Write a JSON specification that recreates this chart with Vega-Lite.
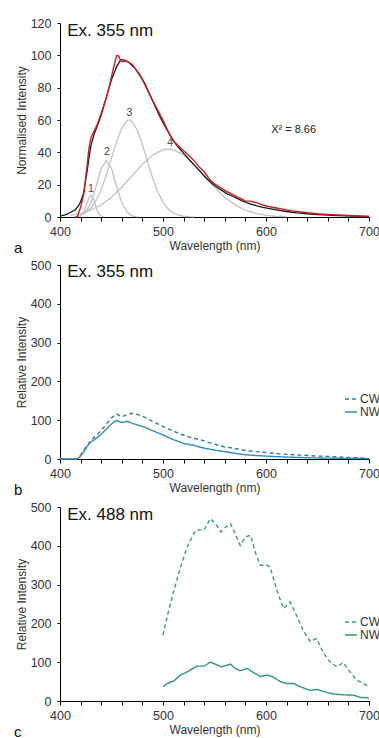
{
  "$schema": "https://vega.github.io/schema/vega-lite/v6.json",
  "padding": {"left": 14, "top": 17, "right": 0, "bottom": 2},
  "autosize": {"type": "pad"},
  "bounds": "flush",
  "spacing": 48,
  "config": {
    "font": "Liberation Sans",
    "view": {"stroke": null},
    "axis": {"grid": false, "domainColor": "#000", "tickColor": "#000", "labelColor": "#333", "titleColor": "#333", "labelFontSize": 12.5, "titleFontSize": 12, "titleFontWeight": "normal", "labelFont": "Liberation Sans", "titleFont": "Liberation Sans", "labelFlush": false},
    "axisX": {"tickSize": 4, "labelPadding": 4, "titlePadding": 3, "labelOverlap": false},
    "axisY": {"tickSize": 3, "labelPadding": 6, "titlePadding": 2},
    "legend": {"symbolType": "stroke", "symbolSize": 144, "symbolStrokeWidth": 1.5, "labelFontSize": 12, "labelColor": "#333", "labelOffset": 2, "rowPadding": -3},
    "title": {"font": "Liberation Sans"}
  },
  "datasets": {
    "a_comp": [
      {"wl": 418, "v": 0.15, "s": "c1"}, {"wl": 420, "v": 0.6, "s": "c1"}, {"wl": 422, "v": 1.8, "s": "c1"}, {"wl": 424, "v": 4.4, "s": "c1"}, {"wl": 426, "v": 8.2, "s": "c1"}, {"wl": 428, "v": 11.9, "s": "c1"}, {"wl": 430, "v": 13.5, "s": "c1"}, {"wl": 432, "v": 11.9, "s": "c1"}, {"wl": 434, "v": 8.2, "s": "c1"}, {"wl": 436, "v": 4.4, "s": "c1"}, {"wl": 438, "v": 1.8, "s": "c1"}, {"wl": 440, "v": 0.6, "s": "c1"}, {"wl": 442, "v": 0.15, "s": "c1"},
      {"wl": 415, "v": 0.13, "s": "c2"}, {"wl": 420, "v": 0.74, "s": "c2"}, {"wl": 425, "v": 3.0, "s": "c2"}, {"wl": 430, "v": 8.7, "s": "c2"}, {"wl": 435, "v": 18.9, "s": "c2"}, {"wl": 440, "v": 30.0, "s": "c2"}, {"wl": 445, "v": 35.0, "s": "c2"}, {"wl": 450, "v": 30.0, "s": "c2"}, {"wl": 455, "v": 18.9, "s": "c2"}, {"wl": 460, "v": 8.7, "s": "c2"}, {"wl": 465, "v": 3.0, "s": "c2"}, {"wl": 470, "v": 0.74, "s": "c2"}, {"wl": 475, "v": 0.13, "s": "c2"},
      {"wl": 420, "v": 1.3, "s": "c3"}, {"wl": 425, "v": 2.8, "s": "c3"}, {"wl": 430, "v": 5.6, "s": "c3"}, {"wl": 435, "v": 10.2, "s": "c3"}, {"wl": 440, "v": 17.0, "s": "c3"}, {"wl": 445, "v": 25.9, "s": "c3"}, {"wl": 450, "v": 36.4, "s": "c3"}, {"wl": 455, "v": 46.8, "s": "c3"}, {"wl": 460, "v": 55.1, "s": "c3"}, {"wl": 465, "v": 59.6, "s": "c3"}, {"wl": 467, "v": 60.0, "s": "c3"}, {"wl": 470, "v": 59.1, "s": "c3"}, {"wl": 475, "v": 53.7, "s": "c3"}, {"wl": 480, "v": 44.8, "s": "c3"}, {"wl": 485, "v": 34.3, "s": "c3"}, {"wl": 490, "v": 24.0, "s": "c3"}, {"wl": 495, "v": 15.5, "s": "c3"}, {"wl": 500, "v": 9.1, "s": "c3"}, {"wl": 505, "v": 4.9, "s": "c3"}, {"wl": 510, "v": 2.45, "s": "c3"}, {"wl": 515, "v": 1.1, "s": "c3"}, {"wl": 520, "v": 0.46, "s": "c3"}, {"wl": 525, "v": 0.18, "s": "c3"}, {"wl": 530, "v": 0.06, "s": "c3"},
      {"wl": 410, "v": 1.06, "s": "c4"}, {"wl": 415, "v": 1.5, "s": "c4"}, {"wl": 420, "v": 2.2, "s": "c4"}, {"wl": 430, "v": 4.2, "s": "c4"}, {"wl": 440, "v": 7.5, "s": "c4"}, {"wl": 450, "v": 12.2, "s": "c4"}, {"wl": 460, "v": 18.4, "s": "c4"}, {"wl": 470, "v": 25.5, "s": "c4"}, {"wl": 480, "v": 32.6, "s": "c4"}, {"wl": 490, "v": 38.3, "s": "c4"}, {"wl": 500, "v": 41.6, "s": "c4"}, {"wl": 505, "v": 42.0, "s": "c4"}, {"wl": 510, "v": 41.6, "s": "c4"}, {"wl": 520, "v": 38.3, "s": "c4"}, {"wl": 530, "v": 32.6, "s": "c4"}, {"wl": 540, "v": 25.5, "s": "c4"}, {"wl": 550, "v": 18.4, "s": "c4"}, {"wl": 560, "v": 12.2, "s": "c4"}, {"wl": 570, "v": 7.5, "s": "c4"}, {"wl": 580, "v": 4.2, "s": "c4"}, {"wl": 590, "v": 2.2, "s": "c4"}, {"wl": 600, "v": 1.06, "s": "c4"}, {"wl": 610, "v": 0.47, "s": "c4"}, {"wl": 620, "v": 0.2, "s": "c4"}
    ],
    "a_fit": [
      {"wl": 400, "v": 0.5}, {"wl": 405, "v": 1.3}, {"wl": 410, "v": 2.8}, {"wl": 415, "v": 4.5}, {"wl": 418, "v": 7}, {"wl": 420, "v": 9.5}, {"wl": 423, "v": 15}, {"wl": 426, "v": 27}, {"wl": 428, "v": 36}, {"wl": 430, "v": 44}, {"wl": 433, "v": 51}, {"wl": 436, "v": 56}, {"wl": 440, "v": 63}, {"wl": 445, "v": 74}, {"wl": 450, "v": 85}, {"wl": 455, "v": 93}, {"wl": 459, "v": 97.3}, {"wl": 463, "v": 97}, {"wl": 467, "v": 95.5}, {"wl": 472, "v": 92.5}, {"wl": 477, "v": 88.5}, {"wl": 482, "v": 83}, {"wl": 487, "v": 76}, {"wl": 492, "v": 69}, {"wl": 497, "v": 62}, {"wl": 502, "v": 56}, {"wl": 507, "v": 50.5}, {"wl": 512, "v": 45.5}, {"wl": 517, "v": 41.5}, {"wl": 522, "v": 38}, {"wl": 527, "v": 34.5}, {"wl": 532, "v": 31}, {"wl": 537, "v": 27.5}, {"wl": 542, "v": 24}, {"wl": 547, "v": 21}, {"wl": 552, "v": 18.5}, {"wl": 557, "v": 16.5}, {"wl": 562, "v": 14.5}, {"wl": 567, "v": 13}, {"wl": 572, "v": 11.5}, {"wl": 577, "v": 10}, {"wl": 582, "v": 8.8}, {"wl": 587, "v": 7.7}, {"wl": 592, "v": 6.8}, {"wl": 597, "v": 6}, {"wl": 602, "v": 5.3}, {"wl": 610, "v": 4.4}, {"wl": 620, "v": 3.4}, {"wl": 630, "v": 2.6}, {"wl": 640, "v": 2}, {"wl": 650, "v": 1.5}, {"wl": 660, "v": 1.1}, {"wl": 670, "v": 0.8}, {"wl": 685, "v": 0.5}, {"wl": 700, "v": 0.3}
    ],
    "a_data": [
      {"wl": 415, "v": 0}, {"wl": 417, "v": 0.5}, {"wl": 420, "v": 6}, {"wl": 423, "v": 14}, {"wl": 426, "v": 30}, {"wl": 428, "v": 42}, {"wl": 430, "v": 49}, {"wl": 433, "v": 53}, {"wl": 436, "v": 57}, {"wl": 440, "v": 64}, {"wl": 445, "v": 74}, {"wl": 448, "v": 81}, {"wl": 450, "v": 87}, {"wl": 453, "v": 95}, {"wl": 455, "v": 100}, {"wl": 457, "v": 99.5}, {"wl": 459, "v": 96.5}, {"wl": 461, "v": 96}, {"wl": 463, "v": 96.5}, {"wl": 466, "v": 96}, {"wl": 470, "v": 94.5}, {"wl": 475, "v": 90}, {"wl": 480, "v": 85}, {"wl": 485, "v": 78.5}, {"wl": 490, "v": 72}, {"wl": 495, "v": 66}, {"wl": 500, "v": 60}, {"wl": 505, "v": 53}, {"wl": 510, "v": 47}, {"wl": 515, "v": 44}, {"wl": 520, "v": 41}, {"wl": 525, "v": 38}, {"wl": 530, "v": 35}, {"wl": 535, "v": 31}, {"wl": 540, "v": 28}, {"wl": 545, "v": 23.5}, {"wl": 550, "v": 20.5}, {"wl": 555, "v": 18.5}, {"wl": 560, "v": 16.5}, {"wl": 565, "v": 14.8}, {"wl": 570, "v": 13}, {"wl": 575, "v": 11.5}, {"wl": 580, "v": 10}, {"wl": 585, "v": 9.8}, {"wl": 590, "v": 9}, {"wl": 595, "v": 7.8}, {"wl": 600, "v": 6.8}, {"wl": 605, "v": 6.2}, {"wl": 610, "v": 5.6}, {"wl": 615, "v": 5}, {"wl": 620, "v": 4.3}, {"wl": 625, "v": 3.8}, {"wl": 630, "v": 3.4}, {"wl": 640, "v": 2.6}, {"wl": 650, "v": 2}, {"wl": 660, "v": 1.6}, {"wl": 670, "v": 1.2}, {"wl": 680, "v": 0.9}, {"wl": 690, "v": 0.6}, {"wl": 700, "v": 0.4}
    ],
    "a_nums": [
      {"wl": 430, "v": 17.5, "t": "1"}, {"wl": 445.5, "v": 40, "t": "2"}, {"wl": 467.5, "v": 64.5, "t": "3"}, {"wl": 507, "v": 46, "t": "4"}
    ],
    "a_chi": [{"wl": 605, "v": 52, "t": "Χ² = 8.66"}],
    "a_ex": [{"wl": 407, "v": 112, "t": "Ex. 355 nm"}],
    "b_ex": [{"wl": 407, "v": 468, "t": "Ex. 355 nm"}],
    "c_ex": [{"wl": 407, "v": 466, "t": "Ex. 488 nm"}],
    "b_lines": [
      {"wl": 400, "v": 0, "s": "CW"}, {"wl": 415, "v": 0, "s": "CW"}, {"wl": 418, "v": 3, "s": "CW"}, {"wl": 420, "v": 10, "s": "CW"}, {"wl": 425, "v": 30, "s": "CW"}, {"wl": 430, "v": 48, "s": "CW"}, {"wl": 435, "v": 60, "s": "CW"}, {"wl": 440, "v": 74, "s": "CW"}, {"wl": 445, "v": 90, "s": "CW"}, {"wl": 450, "v": 106, "s": "CW"}, {"wl": 455, "v": 116, "s": "CW"}, {"wl": 460, "v": 109, "s": "CW"}, {"wl": 465, "v": 114, "s": "CW"}, {"wl": 470, "v": 118, "s": "CW"}, {"wl": 475, "v": 115, "s": "CW"}, {"wl": 480, "v": 110, "s": "CW"}, {"wl": 490, "v": 97, "s": "CW"}, {"wl": 500, "v": 84, "s": "CW"}, {"wl": 510, "v": 72, "s": "CW"}, {"wl": 517, "v": 64, "s": "CW"}, {"wl": 525, "v": 57, "s": "CW"}, {"wl": 537, "v": 49, "s": "CW"}, {"wl": 545, "v": 42, "s": "CW"}, {"wl": 553, "v": 36, "s": "CW"}, {"wl": 560, "v": 31, "s": "CW"}, {"wl": 569, "v": 27.5, "s": "CW"}, {"wl": 580, "v": 22, "s": "CW"}, {"wl": 590, "v": 19, "s": "CW"}, {"wl": 601, "v": 16.4, "s": "CW"}, {"wl": 610, "v": 14, "s": "CW"}, {"wl": 620, "v": 12, "s": "CW"}, {"wl": 634, "v": 10, "s": "CW"}, {"wl": 650, "v": 7.5, "s": "CW"}, {"wl": 666, "v": 6, "s": "CW"}, {"wl": 680, "v": 4, "s": "CW"}, {"wl": 698, "v": 2, "s": "CW"},
      {"wl": 400, "v": 0, "s": "NW"}, {"wl": 415, "v": 0, "s": "NW"}, {"wl": 418, "v": 2, "s": "NW"}, {"wl": 420, "v": 8, "s": "NW"}, {"wl": 423, "v": 18, "s": "NW"}, {"wl": 425, "v": 27, "s": "NW"}, {"wl": 428, "v": 38, "s": "NW"}, {"wl": 430, "v": 44, "s": "NW"}, {"wl": 433, "v": 49, "s": "NW"}, {"wl": 435, "v": 53, "s": "NW"}, {"wl": 440, "v": 64, "s": "NW"}, {"wl": 445, "v": 77, "s": "NW"}, {"wl": 450, "v": 90, "s": "NW"}, {"wl": 453, "v": 97, "s": "NW"}, {"wl": 455, "v": 99, "s": "NW"}, {"wl": 458, "v": 96, "s": "NW"}, {"wl": 461, "v": 94, "s": "NW"}, {"wl": 465, "v": 97, "s": "NW"}, {"wl": 468, "v": 95, "s": "NW"}, {"wl": 470, "v": 92, "s": "NW"}, {"wl": 475, "v": 88, "s": "NW"}, {"wl": 480, "v": 84, "s": "NW"}, {"wl": 490, "v": 73, "s": "NW"}, {"wl": 500, "v": 62, "s": "NW"}, {"wl": 510, "v": 50, "s": "NW"}, {"wl": 520, "v": 40, "s": "NW"}, {"wl": 530, "v": 35, "s": "NW"}, {"wl": 540, "v": 28, "s": "NW"}, {"wl": 550, "v": 23, "s": "NW"}, {"wl": 560, "v": 19, "s": "NW"}, {"wl": 570, "v": 14.6, "s": "NW"}, {"wl": 580, "v": 11, "s": "NW"}, {"wl": 590, "v": 9, "s": "NW"}, {"wl": 600, "v": 7.5, "s": "NW"}, {"wl": 610, "v": 6, "s": "NW"}, {"wl": 620, "v": 5, "s": "NW"}, {"wl": 640, "v": 3.2, "s": "NW"}, {"wl": 660, "v": 2.2, "s": "NW"}, {"wl": 680, "v": 1.5, "s": "NW"}, {"wl": 700, "v": 1, "s": "NW"}
    ],
    "c_lines": [
      {"wl": 500, "v": 170, "s": "CW"}, {"wl": 504, "v": 217, "s": "CW"}, {"wl": 510.6, "v": 285, "s": "CW"}, {"wl": 517, "v": 345, "s": "CW"}, {"wl": 523.5, "v": 397, "s": "CW"}, {"wl": 531.6, "v": 440, "s": "CW"}, {"wl": 535, "v": 441, "s": "CW"}, {"wl": 539.7, "v": 440, "s": "CW"}, {"wl": 546, "v": 470, "s": "CW"}, {"wl": 551, "v": 457, "s": "CW"}, {"wl": 556, "v": 436, "s": "CW"}, {"wl": 560.6, "v": 448, "s": "CW"}, {"wl": 565.5, "v": 457, "s": "CW"}, {"wl": 570, "v": 431, "s": "CW"}, {"wl": 575, "v": 401, "s": "CW"}, {"wl": 580, "v": 423, "s": "CW"}, {"wl": 585, "v": 427, "s": "CW"}, {"wl": 590, "v": 380, "s": "CW"}, {"wl": 594.5, "v": 350, "s": "CW"}, {"wl": 601, "v": 350, "s": "CW"}, {"wl": 604, "v": 345, "s": "CW"}, {"wl": 610.6, "v": 285, "s": "CW"}, {"wl": 617, "v": 238, "s": "CW"}, {"wl": 623.5, "v": 255, "s": "CW"}, {"wl": 628, "v": 230, "s": "CW"}, {"wl": 636, "v": 183, "s": "CW"}, {"wl": 643, "v": 153, "s": "CW"}, {"wl": 649, "v": 161, "s": "CW"}, {"wl": 656, "v": 123, "s": "CW"}, {"wl": 662, "v": 101, "s": "CW"}, {"wl": 669, "v": 88, "s": "CW"}, {"wl": 675, "v": 99, "s": "CW"}, {"wl": 681.6, "v": 75, "s": "CW"}, {"wl": 688, "v": 54, "s": "CW"}, {"wl": 694.5, "v": 45, "s": "CW"}, {"wl": 700, "v": 37, "s": "CW"},
      {"wl": 500, "v": 37, "s": "NW"}, {"wl": 504, "v": 45, "s": "NW"}, {"wl": 510.6, "v": 52, "s": "NW"}, {"wl": 517, "v": 67, "s": "NW"}, {"wl": 523.5, "v": 75, "s": "NW"}, {"wl": 533, "v": 90, "s": "NW"}, {"wl": 539.7, "v": 90, "s": "NW"}, {"wl": 546, "v": 100, "s": "NW"}, {"wl": 552.6, "v": 93, "s": "NW"}, {"wl": 557, "v": 88, "s": "NW"}, {"wl": 565.5, "v": 95, "s": "NW"}, {"wl": 570, "v": 84, "s": "NW"}, {"wl": 575, "v": 78, "s": "NW"}, {"wl": 581.6, "v": 84, "s": "NW"}, {"wl": 588, "v": 73, "s": "NW"}, {"wl": 594.5, "v": 63, "s": "NW"}, {"wl": 601, "v": 67, "s": "NW"}, {"wl": 606, "v": 63, "s": "NW"}, {"wl": 614, "v": 50, "s": "NW"}, {"wl": 620, "v": 45, "s": "NW"}, {"wl": 627, "v": 45, "s": "NW"}, {"wl": 633, "v": 37, "s": "NW"}, {"wl": 643, "v": 27, "s": "NW"}, {"wl": 649.6, "v": 30, "s": "NW"}, {"wl": 656, "v": 24, "s": "NW"}, {"wl": 665.5, "v": 18, "s": "NW"}, {"wl": 675, "v": 16, "s": "NW"}, {"wl": 685, "v": 15, "s": "NW"}, {"wl": 691.6, "v": 9.4, "s": "NW"}, {"wl": 700, "v": 8, "s": "NW"}
    ]
  },
  "vconcat": [
    {
      "width": 309,
      "height": 194,
      "title": {"text": "a", "orient": "bottom", "anchor": "start", "frame": "group", "dx": -46, "offset": -11, "fontSize": 15, "fontWeight": "normal", "color": "#111"},
      "encoding": {
        "x": {"field": "wl", "type": "quantitative", "scale": {"domain": [400, 700], "nice": false}, "axis": {"title": "Wavelength (nm)", "values": [400, 420, 440, 460, 480, 500, 520, 540, 560, 580, 600, 620, 640, 660, 680, 700], "labelExpr": "datum.value % 100 === 0 ? datum.label : ''"}},
        "y": {"field": "v", "type": "quantitative", "scale": {"domain": [0, 120], "nice": false}, "axis": {"title": "Normalised Intensity", "values": [0, 20, 40, 60, 80, 100, 120]}}
      },
      "layer": [
        {"data": {"name": "a_comp"}, "mark": {"type": "line", "color": "#c3c3c3", "strokeWidth": 1.3}, "encoding": {"detail": {"field": "s"}}},
        {"data": {"name": "a_fit"}, "mark": {"type": "line", "color": "#1a1a1a", "strokeWidth": 1.3}, "encoding": {}},
        {"data": {"name": "a_data"}, "mark": {"type": "line", "color": "#c62026", "strokeWidth": 1.4}, "encoding": {}},
        {"data": {"name": "a_nums"}, "mark": {"type": "text", "fontSize": 10.5, "color": "#444", "baseline": "middle", "align": "center"}, "encoding": {"text": {"field": "t"}}},
        {"data": {"name": "a_chi"}, "mark": {"type": "text", "fontSize": 11, "color": "#222", "baseline": "alphabetic", "align": "left"}, "encoding": {"text": {"field": "t"}}},
        {"data": {"name": "a_ex"}, "mark": {"type": "text", "fontSize": 17, "color": "#111", "baseline": "alphabetic", "align": "left"}, "encoding": {"text": {"field": "t"}}}
      ]
    },
    {
      "width": 309,
      "height": 194,
      "title": {"text": "b", "orient": "bottom", "anchor": "start", "frame": "group", "dx": -46, "offset": -11, "fontSize": 15, "fontWeight": "normal", "color": "#111"},
      "encoding": {
        "x": {"field": "wl", "type": "quantitative", "scale": {"domain": [400, 700], "nice": false}, "axis": {"title": "Wavelength (nm)", "values": [400, 420, 440, 460, 480, 500, 520, 540, 560, 580, 600, 620, 640, 660, 680, 700], "labelExpr": "datum.value % 100 === 0 ? datum.label : ''"}},
        "y": {"field": "v", "type": "quantitative", "scale": {"domain": [0, 500], "nice": false}, "axis": {"title": "Relative Intensity", "values": [0, 100, 200, 300, 400, 500]}}
      },
      "layer": [
        {"data": {"name": "b_lines"}, "mark": {"type": "line", "strokeWidth": 1.4},
         "encoding": {
           "color": {"field": "s", "type": "nominal", "scale": {"domain": ["CW", "NW"], "range": ["#3b78a3", "#2f8dbf"]}, "legend": {"title": null, "orient": "none", "legendX": 284, "legendY": 127}},
           "strokeDash": {"field": "s", "type": "nominal", "scale": {"domain": ["CW", "NW"], "range": [[4, 3], [1, 0]]}, "legend": {"title": null, "orient": "none", "legendX": 284, "legendY": 127}}
         }},
        {"data": {"name": "b_ex"}, "mark": {"type": "text", "fontSize": 17, "color": "#111", "baseline": "alphabetic", "align": "left"}, "encoding": {"text": {"field": "t"}}}
      ]
    },
    {
      "width": 309,
      "height": 194,
      "title": {"text": "c", "orient": "bottom", "anchor": "start", "frame": "group", "dx": -46, "offset": -11, "fontSize": 15, "fontWeight": "normal", "color": "#111"},
      "encoding": {
        "x": {"field": "wl", "type": "quantitative", "scale": {"domain": [400, 700], "nice": false}, "axis": {"title": "Wavelength (nm)", "values": [400, 420, 440, 460, 480, 500, 520, 540, 560, 580, 600, 620, 640, 660, 680, 700], "labelExpr": "datum.value % 100 === 0 ? datum.label : ''"}},
        "y": {"field": "v", "type": "quantitative", "scale": {"domain": [0, 500], "nice": false}, "axis": {"title": "Relative Intensity", "values": [0, 100, 200, 300, 400, 500]}}
      },
      "layer": [
        {"data": {"name": "c_lines"}, "mark": {"type": "line", "strokeWidth": 1.4},
         "encoding": {
           "color": {"field": "s", "type": "nominal", "scale": {"domain": ["CW", "NW"], "range": ["#3a9c72", "#2e9a6a"]}, "legend": {"title": null, "orient": "none", "legendX": 284, "legendY": 108}},
           "strokeDash": {"field": "s", "type": "nominal", "scale": {"domain": ["CW", "NW"], "range": [[4, 3], [1, 0]]}, "legend": {"title": null, "orient": "none", "legendX": 284, "legendY": 108}}
         }},
        {"data": {"name": "c_ex"}, "mark": {"type": "text", "fontSize": 17, "color": "#111", "baseline": "alphabetic", "align": "left"}, "encoding": {"text": {"field": "t"}}}
      ]
    }
  ],
  "resolve": {"scale": {"color": "independent", "strokeDash": "independent"}}
}
